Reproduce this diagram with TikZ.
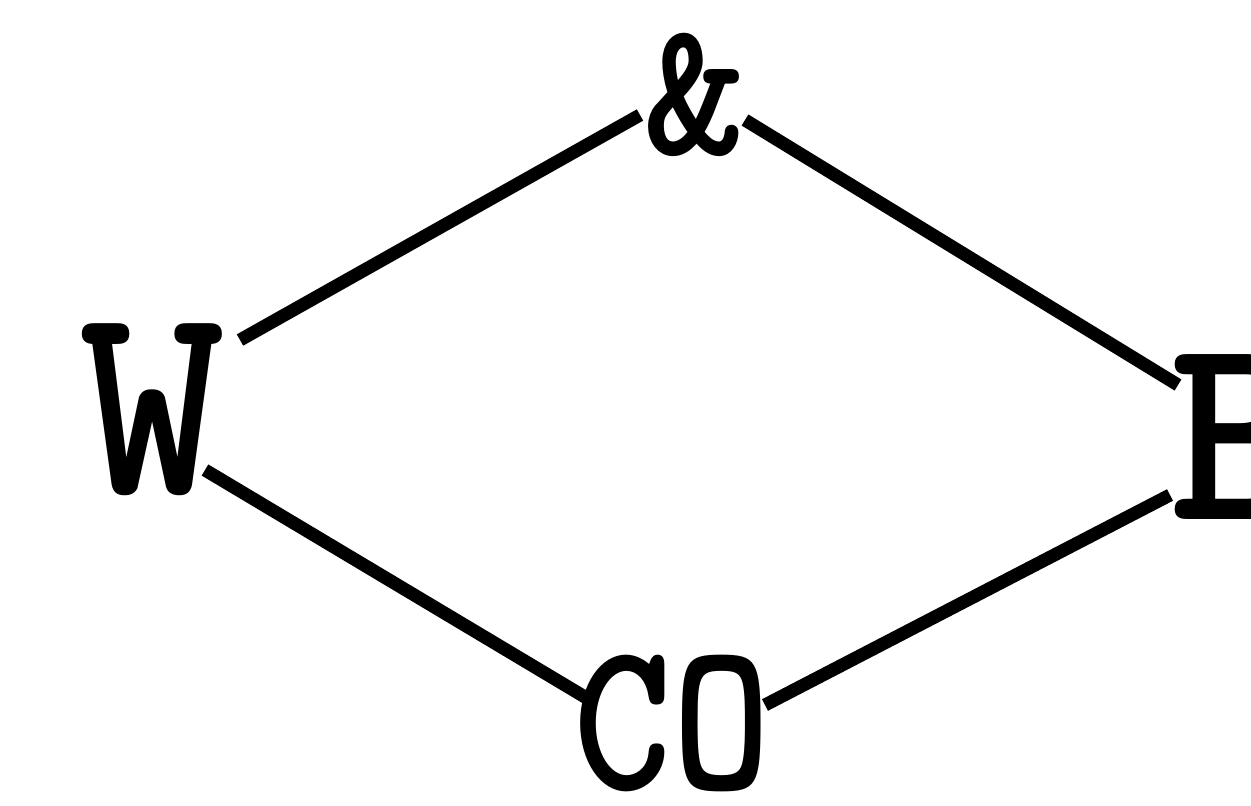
\documentclass[tikz,border=0pt]{standalone}
\usetikzlibrary{calc}
\begin{document}
\begin{tikzpicture}[x=1pt,y=-1pt,
  lbl/.style={inner sep=0pt,outer sep=0pt,font=\ttfamily\bfseries},
  bond/.style={line width=13pt,line cap=butt,black}]
\useasboundingbox (0,0) rectangle (1251,806);
\clip (0,0) rectangle (1251,806);
\node[lbl,font=\fontsize{278}{278}\selectfont\ttfamily\bfseries] (W) at (152,410) {W};
\node[lbl,font=\fontsize{195}{195}\selectfont\ttfamily\bfseries] (amp) at (695,95) {\&};
\node[lbl,font=\fontsize{270}{270}\selectfont\ttfamily\bfseries] (B) at (1240,437) {B};
\node[lbl,xscale=0.87,font=\fontsize{216}{216}\selectfont\ttfamily\bfseries] (CO) at (672,724) {CO};
\draw[bond] ($(W)+(88,-70)$) -- ($(amp)+(-55,20)$);
\draw[bond] ($(amp)+(50,25)$) -- ($(B)+(-62,-52)$);
\draw[bond] ($(W)+(53,60)$) -- ($(CO)+(-82,-24)$);
\draw[bond] ($(CO)+(93,-19)$) -- ($(B)+(-70,58)$);
\end{tikzpicture}
\end{document}
